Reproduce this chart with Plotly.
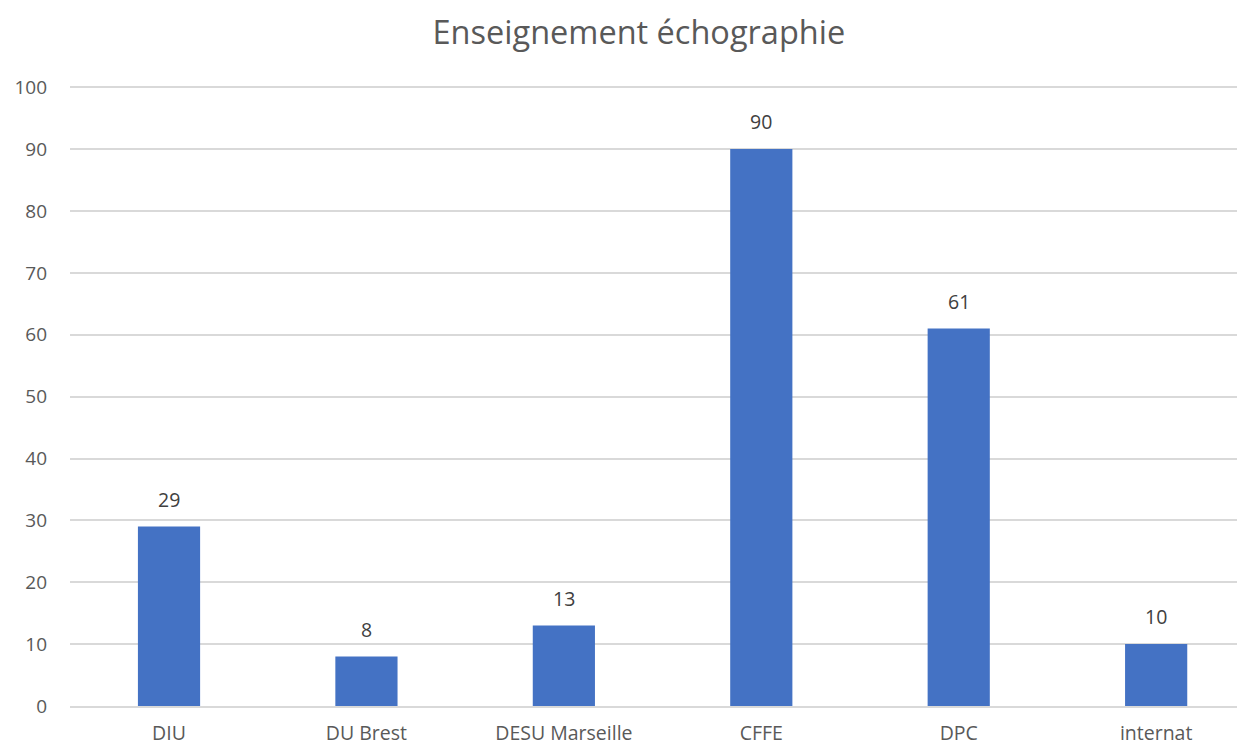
import plotly.graph_objects as go

categories = ["DIU", "DU Brest", "DESU Marseille", "CFFE", "DPC", "internat"]
values = [29, 8, 13, 90, 61, 10]
y_ticks = [0, 10, 20, 30, 40, 50, 60, 70, 80, 90, 100]

fig = go.Figure(go.Bar(
    x=categories, y=values,
    marker_color="#4472C4",
    width=0.315,
    hoverinfo="x+y",
))

for c, v in zip(categories, values):
    fig.add_annotation(x=c, y=v, text=str(v), showarrow=False,
                       yanchor="bottom", yshift=12,
                       font=dict(size=19.5, color="#404040"))

fig.update_layout(
    template="none",
    width=1237, height=738,
    paper_bgcolor="white", plot_bgcolor="white",
    font=dict(family="Open Sans, sans-serif", color="#595959", size=18),
    title=dict(text="Enseignement échographie", x=0.51, xanchor="center",
               y=1 - 25 / 738, yanchor="middle",
               font=dict(size=32.5, color="#595959")),
    margin=dict(l=62, r=0, t=78, b=40, autoexpand=False),
    showlegend=False,
)
fig.update_xaxes(range=[-0.5015, 5.45],
                 showline=True, linecolor="#D9D9D9", linewidth=1.5,
                 showgrid=False, zeroline=False, automargin=False,
                 tickfont=dict(size=19.5, color="#595959"), ticks="",
                 ticklabelstandoff=9)
fig.update_yaxes(range=[0, 100.2], tickvals=y_ticks, showgrid=True,
                 gridcolor="#D9D9D9", gridwidth=1.5, zeroline=False,
                 showline=False, automargin=False,
                 tickfont=dict(size=19, color="#595959"), ticks="",
                 ticklabelstandoff=22)
fig.write_html("out.html")
